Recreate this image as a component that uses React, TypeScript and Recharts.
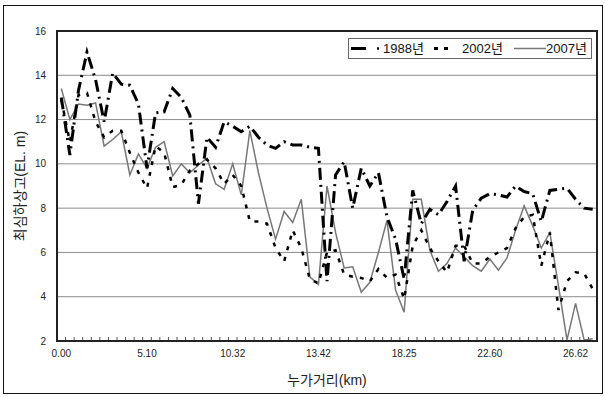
import { LineChart, Line, XAxis, YAxis, CartesianGrid } from 'recharts';

// distance labels shown every 10 sections
const tickLabels = ['0.00', '5.10', '10.32', '13.42', '18.25', '22.60', '26.62'];

const y1988 = [
  13.0, 10.4, 13.3, 15.05, 13.8, 11.9, 14.1, 13.6, 13.55, 12.7,
  9.8, 12.3, 12.35, 13.4, 13.0, 12.2, 8.2, 11.2, 10.75, 11.9,
  11.7, 11.45, 11.7, 11.2, 10.85, 10.7, 11.0, 10.85, 10.85, 10.75,
  10.7, 4.7, 9.5, 10.1, 8.0, 9.8, 9.0, 9.6, 7.6, 6.6,
  4.8, 8.8, 7.3, 7.95, 7.7, 8.3, 9.0, 5.6, 7.9, 8.45,
  8.65, 8.6, 8.5, 9.0, 8.75, 8.65, 7.4, 8.8, 8.85, 8.9,
  8.4, 8.0, 7.95,
];

const y2002 = [
  12.9, 11.0, 13.1, 13.2, 11.9, 11.2, 11.5, 11.5, 10.5, 9.6,
  8.9, 10.8, 10.5, 8.95, 9.05, 9.7, 10.0, 10.2, 9.8, 9.1,
  9.5, 9.0, 7.4, 7.4, 7.3, 6.2, 5.6, 7.0, 6.2, 4.8,
  4.6, 6.0, 6.1, 5.0, 4.9, 4.85, 4.7, 5.25, 4.85, 5.0,
  3.9, 6.3, 7.0, 6.2, 5.6, 5.1, 6.3, 6.3, 5.5, 5.5,
  5.8, 6.0, 6.2, 7.1, 7.6, 7.7, 5.4, 6.9, 3.4, 4.7,
  5.1, 5.05, 4.35,
];

const y2007 = [
  13.4, 12.0, 12.7, 12.65, 12.75, 10.8, 11.1, 11.45, 9.5, 10.45,
  9.8, 10.75, 11.0, 9.45, 10.0, 9.6, 9.95, 10.25, 9.1, 8.85,
  10.0, 8.6, 11.5, 9.6, 8.0, 6.6, 7.85, 7.35, 8.4, 4.9,
  4.55, 9.0, 6.9, 5.3, 5.35, 4.2, 4.65, 6.0, 7.45, 4.3,
  3.3, 8.4, 8.4, 6.1, 5.15, 5.5, 6.2, 5.8, 5.4, 5.15,
  5.7, 5.2, 5.75, 7.0, 8.1, 7.2, 6.2, 6.9, 4.5, 2.05,
  3.7, 2.05, 2.1,
];

const yTicks = [2, 4, 6, 8, 10, 12, 14, 16];

const data = y1988.map((v, i) => ({
  idx: i,
  y1988: v,
  y2002: y2002[i],
  y2007: y2007[i],
}));

const LABEL_STEP = 10;
const TICK_MARGIN = 9;
const FONT = "'Liberation Sans', Arial, 'Noto Sans CJK KR', sans-serif";

// plot frame (matches chart margins + axis sizes below)
const PLOT = { left: 57, top: 31, width: 540, height: 310 };

// labels at every 10th section, small inner ticks between sections
const xTicks: number[] = [];
data.forEach((d, i) => {
  if (i % LABEL_STEP === 0) xTicks.push(i);
  if (i < data.length - 1) xTicks.push(i + 0.5);
});

function XTick(props: any) {
  const { x, y, payload } = props;
  const v = payload.value;
  const axisY = y - TICK_MARGIN;
  if (v % 1 !== 0) {
    return <line x1={x} x2={x} y1={axisY} y2={axisY - 4} stroke="#555" strokeWidth={1} />;
  }
  return (
    <text x={x} y={y} dy="0.71em" textAnchor="middle" fontSize={10} fill="#222" fontFamily={FONT}>
      {tickLabels[v / LABEL_STEP]}
    </text>
  );
}

function LegendBox() {
  return (
    <svg width={244} height={21} style={{ position: 'absolute', left: 348, top: 38 }}>
      <rect x={0.5} y={0.5} width={243} height={20} fill="#fff" stroke="#666" />
      <line x1={3} x2={18} y1={10.5} y2={10.5} stroke="#000" strokeWidth={3} />
      <line x1={29} x2={31} y1={10.5} y2={10.5} stroke="#000" strokeWidth={2.5} />
      <text x={35} y={15} fontSize={13} fill="#111" fontFamily={FONT}>1988년</text>
      <line x1={86} x2={90} y1={10.5} y2={10.5} stroke="#000" strokeWidth={3} />
      <line x1={96} x2={100} y1={10.5} y2={10.5} stroke="#000" strokeWidth={3} />
      <text x={114} y={15} fontSize={13} fill="#111" fontFamily={FONT}>2002년</text>
      <line x1={166} x2={198} y1={10.5} y2={10.5} stroke="#777" strokeWidth={1.5} />
      <text x={198} y={15} fontSize={13} fill="#111" fontFamily={FONT}>2007년</text>
    </svg>
  );
}

export default function App() {
  return (
    <div style={{ position: 'absolute', left: 0, top: 0, width: 605, height: 397, background: '#fff' }}>
      <div
        style={{
          position: 'absolute',
          left: 3,
          top: 5,
          width: 598,
          height: 387,
          border: '1px solid #111',
        }}
      />
      <div style={{ position: 'absolute', left: 0, top: 0 }}>
        <LineChart width={605} height={397} data={data} margin={{ top: 31, right: 8, left: 0, bottom: 6 }}>
          <CartesianGrid vertical={false} stroke="#8c8c8c" strokeWidth={1} />
          <XAxis
            dataKey="idx"
            type="number"
            domain={[-0.5, data.length - 0.5]}
            ticks={xTicks}
            interval={0}
            height={50}
            tickLine={false}
            tickSize={0}
            tickMargin={TICK_MARGIN}
            axisLine={false}
            tick={<XTick />}
            label={{
              value: '누가거리(km)',
              position: 'insideBottom',
              offset: 6,
              fontSize: 14,
              fill: '#222',
              fontFamily: FONT,
            }}
          />
          <YAxis
            type="number"
            domain={[2, 16]}
            ticks={yTicks}
            width={57}
            tickLine={false}
            tickSize={0}
            tickMargin={11}
            axisLine={false}
            tick={{ fontSize: 10, fill: '#222', fontFamily: FONT }}
            label={{
              content: (p: any) => {
                const vb = p.viewBox;
                const cx = vb.x + 20;
                const cy = vb.y + vb.height / 2;
                return (
                  <text
                    x={cx}
                    y={cy}
                    transform={`rotate(-90 ${cx} ${cy})`}
                    textAnchor="middle"
                    dominantBaseline="central"
                    fontSize={14}
                    fill="#222"
                    fontFamily={FONT}
                  >
                    최심하상고(EL. m)
                  </text>
                );
              },
            }}
          />
          <Line
            dataKey="y2007"
            stroke="#777"
            strokeWidth={1.5}
            dot={false}
            isAnimationActive={false}
          />
          <Line
            dataKey="y2002"
            stroke="#000"
            strokeWidth={2.5}
            strokeDasharray="4 7"
            dot={false}
            isAnimationActive={false}
          />
          <Line
            dataKey="y1988"
            stroke="#000"
            strokeWidth={3}
            strokeDasharray="12 5 2 5"
            dot={false}
            isAnimationActive={false}
          />
        </LineChart>
      </div>
      <div
        style={{
          position: 'absolute',
          left: PLOT.left - 1,
          top: PLOT.top - 1,
          width: PLOT.width + 2,
          height: PLOT.height + 2,
          border: '2px solid #222',
          boxSizing: 'border-box',
        }}
      />
      <LegendBox />
    </div>
  );
}
